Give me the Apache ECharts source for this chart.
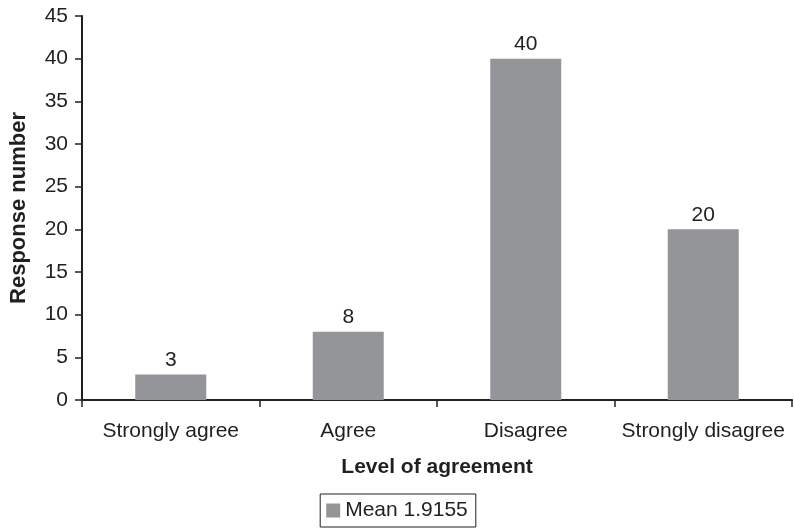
<!DOCTYPE html>
<html>
<head>
<meta charset="utf-8">
<script src="https://cdn.jsdelivr.net/npm/echarts@6/dist/echarts.min.js"></script>
<style>
  html, body { margin: 0; padding: 0; background: #fff; }
  #chart { width: 794px; height: 532px; }
</style>
</head>
<body>
<div id="chart"></div>
<script>
var categories = ['Strongly agree', 'Agree', 'Disagree', 'Strongly disagree'];
var responses = [3, 8, 40, 20];
var seriesName = 'Mean 1.9155';

var textColor = '#231f20';
var font = 'Arial, "Liberation Sans", Helvetica, sans-serif';
var fs = 21;

var chart = echarts.init(document.getElementById('chart'));
chart.setOption({
    animation: false,
    textStyle: { fontFamily: font, color: textColor },
    grid: { left: 82, right: 2, top: 16, bottom: 132, containLabel: false, outerBoundsMode: 'none' },
    legend: {
        bottom: 5,
        left: 'center',
        data: [seriesName],
        icon: 'rect',
        itemWidth: 14,
        itemHeight: 14,
        itemGap: 5,
        borderColor: textColor,
        borderWidth: 1,
        borderRadius: 0,
        padding: [6, 8, 6, 6],
        textStyle: { fontSize: fs, color: textColor, fontFamily: font }
    },
    xAxis: {
        type: 'category',
        data: categories,
        name: 'Level of agreement',
        nameLocation: 'middle',
        nameGap: 57,
        nameTextStyle: { fontSize: 21, fontWeight: 'bold', color: textColor, fontFamily: font },
        axisLine: { lineStyle: { color: textColor, width: 2 } },
        axisTick: { show: true, length: 7, lineStyle: { color: textColor, width: 1.5 } },
        axisLabel: { interval: 0, fontSize: fs, color: textColor, margin: 21, fontFamily: font }
    },
    yAxis: {
        type: 'value',
        min: 0,
        max: 45,
        interval: 5,
        name: 'Response number',
        nameLocation: 'middle',
        nameGap: 52,
        nameTextStyle: { fontSize: 22, fontWeight: 'bold', color: textColor, fontFamily: font },
        axisLine: { show: true, lineStyle: { color: textColor, width: 2 } },
        axisTick: { show: true, length: 7, lineStyle: { color: textColor, width: 1.5 } },
        axisLabel: { fontSize: fs, color: textColor, margin: 14, fontFamily: font },
        splitLine: { show: false }
    },
    series: [{
        name: seriesName,
        type: 'bar',
        data: responses,
        barWidth: '40%',
        itemStyle: { color: '#939598' },
        label: {
            show: true,
            position: 'top',
            distance: 4,
            fontSize: fs,
            color: textColor,
            fontFamily: font
        }
    }]
});
</script>
</body>
</html>
